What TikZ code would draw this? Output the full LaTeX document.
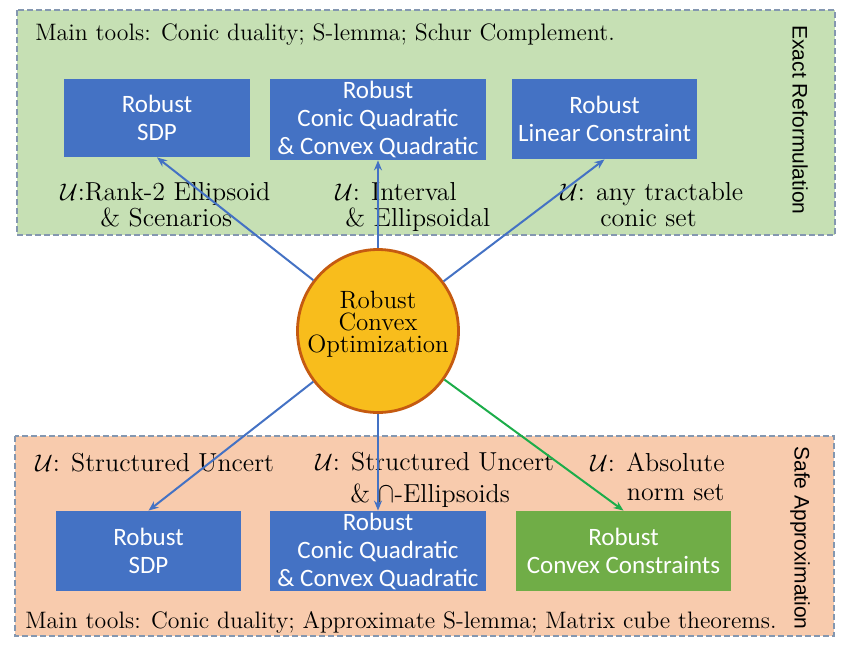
\documentclass[tikz,border=0pt]{standalone}
\usepackage{fontspec}
\usepackage{graphicx}
\newfontfamily\boxfont{Carlito}
\newfontfamily\sidefont{Liberation Sans}
\usetikzlibrary{shapes.geometric,arrows.meta}
\definecolor{regborder}{HTML}{8497B0}
\definecolor{greenfill}{HTML}{C6E0B4}
\definecolor{peachfill}{HTML}{F8CBAD}
\definecolor{boxblue}{HTML}{4472C4}
\definecolor{boxgreen}{HTML}{70AD47}
\definecolor{circfill}{HTML}{F8BD1C}
\definecolor{circborder}{HTML}{C55A11}
\definecolor{linegreen}{HTML}{1CAD4A}
\tikzset{
  region/.style={draw=regborder, line width=0.8pt, dash pattern=on 3pt off 1.5pt},
  solidbox/.style={draw=none, text=white, align=center, inner sep=0pt,
    font={\boxfont\fontsize{12.5pt}{14pt}\selectfont}},
  lbl/.style={inner sep=0pt, font={\fontsize{13pt}{15pt}\selectfont}},
  tools/.style={inner sep=0pt, font={\fontsize{11.9pt}{14pt}\selectfont}},
  side/.style={inner sep=0pt, rotate=-90, font={\sidefont\fontsize{10.5pt}{12pt}\selectfont}},
  bluearrow/.style={draw=boxblue, line width=1pt, -{Stealth[length=5pt,width=4pt]}},
  greenarrow/.style={draw=linegreen, line width=1pt, -{Stealth[length=5pt,width=4pt]}}
}
\begin{document}
\begin{tikzpicture}[x=0.5pt,y=-0.5pt]
\useasboundingbox (0,0) rectangle (852,645);
% regions
\draw[region, fill=greenfill] (17,10) rectangle (835,235);
\draw[region, fill=peachfill] (15,436) rectangle (834,636);
% side labels
\node[side] (exact) at (800,120) {Exact Reformulation};
\node[side] (safe) at (800,538) {Safe Approximation};
% tools
\node[tools, anchor=base west] (toolsA) at (35,40) {Main tools: Conic duality; S-lemma; Schur Complement.};
\node[tools, anchor=base west] (toolsB) at (25,628) {Main tools: Conic duality; Approximate S-lemma; Matrix cube theorems.};
% top boxes
\node[solidbox, fill=boxblue, minimum width=93pt, minimum height=39pt] (sdpA) at (157,118) {Robust\\SDP};
\node[solidbox, fill=boxblue, minimum width=108pt, minimum height=40.5pt] (cqA) at (378,119.5) {Robust\\Conic Quadratic\\\& Convex Quadratic};
\node[solidbox, fill=boxblue, minimum width=92.5pt, minimum height=40pt] (linA) at (604.5,119) {Robust\\Linear Constraint};
% bottom boxes
\node[solidbox, fill=boxblue, minimum width=92.5pt, minimum height=40pt] (sdpB) at (148.5,551) {Robust\\SDP};
\node[solidbox, fill=boxblue, minimum width=108pt, minimum height=40pt] (cqB) at (378,551) {Robust\\Conic Quadratic\\\& Convex Quadratic};
\node[solidbox, fill=boxgreen, minimum width=107.5pt, minimum height=40pt] (ccB) at (623.5,551) {Robust\\Convex Constraints};
% centre
\node[ellipse, draw=circborder, line width=1.4pt, fill=circfill, minimum width=80.5pt, minimum height=81.5pt, inner sep=0pt] (rco) at (378,331) {};
\node[align=center, inner sep=0pt, font={\fontsize{12.5pt}{11pt}\selectfont}] (rcotext) at (378,324) {Robust\\Convex\\Optimization};
% top labels
\node[lbl, anchor=base west] (uA1) at (60,200) {$\mathcal{U}$:Rank-2 Ellipsoid};
\node[lbl, anchor=base west] (uA2) at (100,226) {\& Scenarios};
\node[lbl, anchor=base west] (uB1) at (335,200) {$\mathcal{U}$: Interval};
\node[lbl, anchor=base west] (uB2) at (345,226) {\& Ellipsoidal};
\node[lbl, anchor=base west] (uC1) at (560,200) {$\mathcal{U}$: any tractable};
\node[lbl, anchor=base west] (uC2) at (600,226) {conic set};
% bottom labels
\node[lbl, anchor=base west] (vA1) at (35,471) {$\mathcal{U}$: Structured Uncert};
\node[lbl, anchor=base west] (vB1) at (315,470) {$\mathcal{U}$: Structured Uncert};
\node[lbl, anchor=base west] (vB2) at (350,502) {\& \scalebox{1}[1.2]{$\cap$}-Ellipsoids};
\node[lbl, anchor=base east] (vC1) at (725,471) {$\mathcal{U}$: Absolute};
\node[lbl, anchor=base east] (vC2) at (725,500) {norm set};
% connectors
\draw[bluearrow] (rco) -- (sdpA.south);
\draw[bluearrow] (rco) -- (cqA.south);
\draw[bluearrow] (rco) -- (linA.south);
\draw[bluearrow] (rco) -- (sdpB.north);
\draw[bluearrow] (rco) -- (cqB.north);
\draw[greenarrow] (rco) -- (ccB.north);
\end{tikzpicture}
\end{document}
